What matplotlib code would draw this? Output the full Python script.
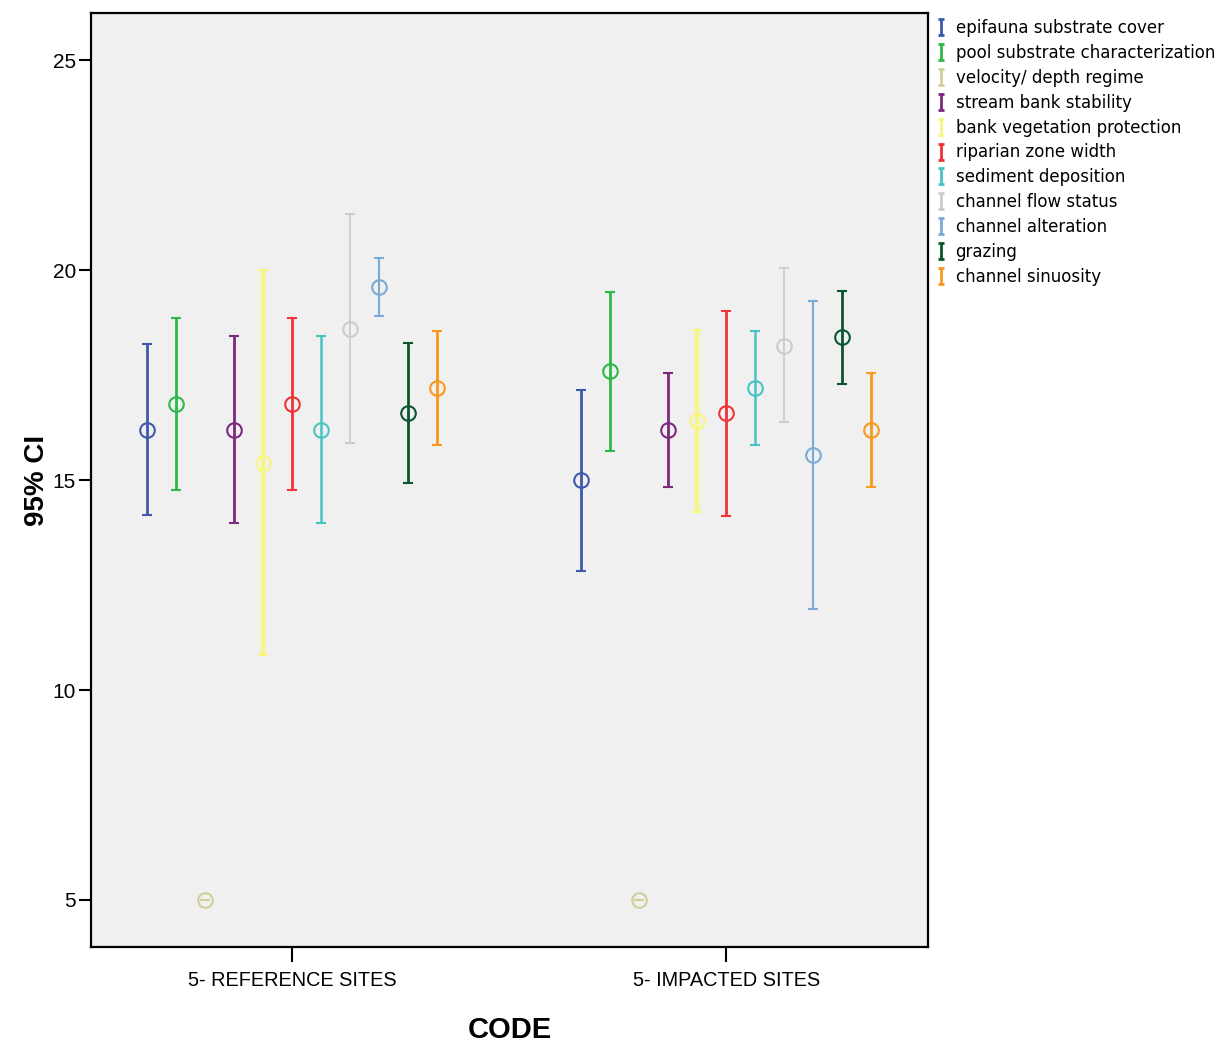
import numpy as np
import matplotlib.pyplot as plt
from matplotlib.path import Path
from matplotlib.lines import Line2D

# values (mean and 95% CI bounds)
groups = ['5- REFERENCE SITES', '5- IMPACTED SITES']
variables = ['epifauna substrate cover', 'pool substrate characterization',
             'velocity/ depth regime', 'stream bank stability',
             'bank vegetation protection', 'riparian zone width',
             'sediment deposition', 'channel flow status', 'channel alteration',
             'grazing', 'channel sinuosity']
colors = ['#3e58ac', '#2eb848', '#d3ce97', '#7c287d', '#f8f67e', '#ef3338',
          '#48c2c5', '#cccccc', '#7aaad5', '#0a562c', '#f8981d']

ref_mean = [16.2, 16.8, 5.0, 16.2, 15.4, 16.8, 16.2, 18.6, 19.6, 16.6, 17.2]
ref_low = [14.17, 14.76, 5.0, 13.98, 10.83, 14.76, 13.98, 15.88, 18.90, 14.93, 15.83]
ref_high = [18.24, 18.86, 5.0, 18.43, 20.00, 18.86, 18.43, 21.33, 20.28, 18.27, 18.55]

imp_mean = [15.0, 17.6, 5.0, 16.2, 16.4, 16.6, 17.2, 18.2, 15.6, 18.4, 16.2]
imp_low = [12.84, 15.70, 5.0, 14.83, 14.25, 14.15, 15.83, 16.37, 11.92, 17.29, 14.83]
imp_high = [17.14, 19.48, 5.0, 17.55, 18.57, 19.02, 18.55, 20.04, 19.27, 19.51, 17.55]

means = np.array([ref_mean, imp_mean])
lows = np.array([ref_low, imp_low])
highs = np.array([ref_high, imp_high])

plt.rcParams['font.family'] = ['Liberation Sans', 'DejaVu Sans']

fig = plt.figure(figsize=(12.32, 10.44), dpi=100)
ax = fig.add_axes([0.0739, 0.0929, 0.6794, 0.8946])
ax.set_facecolor('#f0f0f0')

step = 0.0668
xbase = np.arange(len(groups))
lws = [2, 2, 1.5, 2, 3, 2, 1.8, 1.3, 1.5, 2, 2]
for i, (name, col) in enumerate(zip(variables, colors)):
    x = xbase + (i - 5) * step
    m = means[:, i]
    yerr = [m - lows[:, i], highs[:, i] - m]
    ax.errorbar(x, m, yerr=yerr, fmt='o', color=col, ecolor=col, mfc='none',
                mec=col, ms=10.5, mew=1.5, elinewidth=lws[i], capsize=3.5,
                capthick=2, zorder=3)

ax.set_xlim(-0.463, 1.465)
ax.set_ylim(3.88, 26.12)
ax.set_xticks(xbase)
ax.set_xticklabels(groups, fontsize=14.3)
ax.set_yticks([5, 10, 15, 20, 25])
ax.tick_params(axis='y', labelsize=15, length=9, width=1.5, pad=2)
ax.tick_params(axis='x', length=11, width=1.5, pad=6)
for s in ax.spines.values():
    s.set_linewidth(1.6)

ax.set_ylabel('95% CI', fontsize=20, fontweight='bold', labelpad=2)
ax.set_xlabel('CODE', fontsize=21, fontweight='bold', labelpad=19)

# legend: "I" shaped errorbar symbols like SPSS
ibar = Path([(-0.45, 1), (0.45, 1), (0, 1), (0, -1), (-0.45, -1), (0.45, -1)],
            [Path.MOVETO, Path.LINETO, Path.MOVETO, Path.LINETO, Path.MOVETO, Path.LINETO])
handles = [Line2D([], [], linestyle='none', marker=ibar, markersize=11,
                  markeredgewidth=2, color=c) for c in colors]
fig.legend(handles, variables, loc='upper left', bbox_to_anchor=(0.754, 0.988),
           frameon=False, labelspacing=0.41, handlelength=0.7,
           handletextpad=0.5, borderaxespad=0,
           prop={'family': ['DejaVu Sans'], 'size': 12})

plt.savefig('out.png', dpi=100)
